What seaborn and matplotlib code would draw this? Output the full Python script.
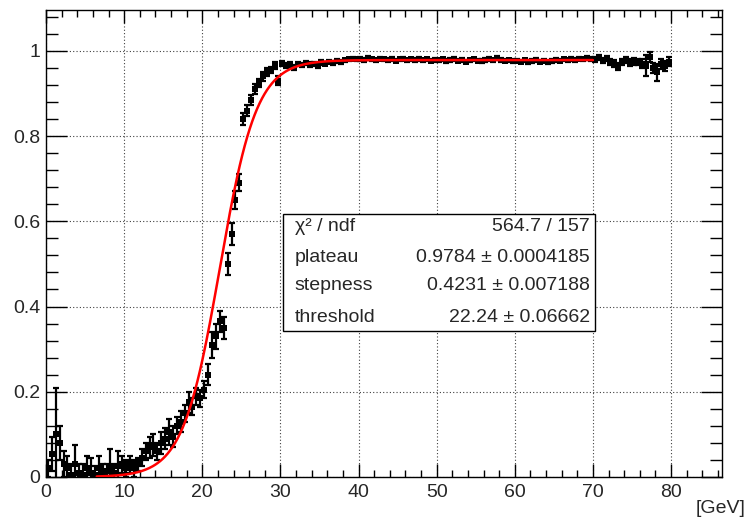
import numpy as np
import pandas as pd
import matplotlib
matplotlib.use('Agg')
import matplotlib.pyplot as plt
from matplotlib.ticker import MultipleLocator, FuncFormatter
from matplotlib.patches import Rectangle
import seaborn as sns

# bin centres, 0.5 GeV bins from 0 to 80
bin_centres = np.arange(0.25, 80.0, 0.5)

# efficiency per bin
eff_0_10 = [0.020, 0.055, 0.100, 0.080, 0.030, 0.020, 0.005, 0.030, 0.010, 0.005,
            0.020, 0.010, 0.005, 0.020, 0.010, 0.015, 0.020, 0.010, 0.025, 0.030]
eff_10_20 = [0.020, 0.030, 0.020, 0.030, 0.045, 0.060, 0.070, 0.075, 0.060, 0.080,
             0.090, 0.105, 0.095, 0.120, 0.130, 0.150, 0.175, 0.165, 0.190, 0.185]
eff_20_30 = [0.205, 0.240, 0.310, 0.330, 0.365, 0.350, 0.500, 0.570, 0.650, 0.690,
             0.840, 0.860, 0.885, 0.910, 0.925, 0.940, 0.950, 0.955, 0.965, 0.930]
eff_30_40 = [0.970, 0.965, 0.968, 0.962, 0.970, 0.966, 0.972, 0.968, 0.970, 0.965,
             0.973, 0.970, 0.975, 0.972, 0.976, 0.974, 0.978, 0.980, 0.982, 0.980]
eff_40_50 = [0.981, 0.979, 0.983, 0.980, 0.978, 0.982, 0.980, 0.979, 0.981, 0.977,
             0.980, 0.982, 0.978, 0.980, 0.979, 0.981, 0.978, 0.980, 0.977, 0.979]
eff_50_60 = [0.978, 0.980, 0.976, 0.979, 0.981, 0.977, 0.979, 0.975, 0.978, 0.980,
             0.977, 0.976, 0.979, 0.981, 0.978, 0.983, 0.979, 0.977, 0.978, 0.976]
eff_60_70 = [0.977, 0.975, 0.978, 0.974, 0.976, 0.979, 0.975, 0.977, 0.973, 0.976,
             0.979, 0.977, 0.980, 0.978, 0.981, 0.979, 0.982, 0.980, 0.983, 0.981]
eff_70_80 = [0.980, 0.984, 0.978, 0.982, 0.975, 0.970, 0.963, 0.975, 0.978, 0.972,
             0.976, 0.974, 0.970, 0.965, 0.985, 0.960, 0.950, 0.970, 0.965, 0.975]

err_0_10 = [0.020, 0.040, 0.110, 0.040, 0.030, 0.030, 0.025, 0.045, 0.020, 0.025,
            0.030, 0.035, 0.020, 0.030, 0.020, 0.015, 0.045, 0.020, 0.035, 0.020]
err_10_20 = [0.020, 0.020, 0.020, 0.015, 0.020, 0.020, 0.025, 0.025, 0.020, 0.025,
             0.025, 0.030, 0.025, 0.020, 0.025, 0.020, 0.025, 0.020, 0.020, 0.020]
err_20_30 = [0.020, 0.025, 0.030, 0.030, 0.025, 0.025, 0.025, 0.025, 0.020, 0.020,
             0.015, 0.012, 0.012, 0.012, 0.010, 0.010, 0.010, 0.008, 0.008, 0.010]
err_30_40 = [0.006, 0.006, 0.006, 0.006, 0.005, 0.005, 0.005, 0.005, 0.005, 0.005,
             0.005, 0.004, 0.004, 0.004, 0.004, 0.004, 0.004, 0.004, 0.004, 0.004]
err_40_70 = [0.004] * 60
err_70_80 = [0.005, 0.006, 0.006, 0.006, 0.007, 0.008, 0.008, 0.007, 0.007, 0.008,
             0.008, 0.008, 0.010, 0.025, 0.012, 0.012, 0.020, 0.012, 0.012, 0.010]

efficiency = eff_0_10 + eff_10_20 + eff_20_30 + eff_30_40 + eff_40_50 + eff_50_60 + eff_60_70 + eff_70_80
eff_err = err_0_10 + err_10_20 + err_20_30 + err_30_40 + err_40_70 + err_70_80

# fit results (shown in the stats box)
chi2_ndf = '564.7 / 157'
plateau, plateau_err = 0.9784, '0.0004185'
stepness, stepness_err = 0.4231, '0.007188'
threshold, threshold_err = 22.24, '0.06662'
fit_range = (6.5, 70.0)

df = pd.DataFrame({'x': bin_centres, 'eff': efficiency, 'err': eff_err})

sns.set_style('ticks')
plt.rcParams['font.family'] = ['Liberation Sans', 'DejaVu Sans']
plt.rcParams['font.size'] = 14

fig = plt.figure(figsize=(7.48, 5.24), dpi=100)
ax = fig.add_axes([0.0615, 0.0897, 0.9035, 0.8913])

ax.errorbar(df['x'], df['eff'], yerr=df['err'], fmt='none', ecolor='black',
            elinewidth=1.6, capsize=2.4, capthick=1.6, zorder=3)
sns.scatterplot(data=df, x='x', y='eff', marker='s', color='black', s=22,
                linewidth=0, ax=ax, zorder=4)

# fit function drawn over the fit range
fx = np.linspace(fit_range[0], fit_range[1], 400)
fy = plateau / (1 + np.exp(-stepness * (fx - threshold)))
sns.lineplot(x=fx, y=fy, color='#ff0000', linewidth=1.8, ax=ax, zorder=5)

ax.set_xlim(0, 86.5)
ax.set_ylim(0, 1.096)
ax.xaxis.set_major_locator(MultipleLocator(10))
ax.xaxis.set_minor_locator(MultipleLocator(2))
ax.yaxis.set_major_locator(MultipleLocator(0.2))
ax.yaxis.set_minor_locator(MultipleLocator(0.04))
ax.yaxis.set_major_formatter(FuncFormatter(lambda v, p: '%g' % round(v, 2)))

ax.tick_params(which='both', direction='in', top=True, right=True, color='black',
               labelsize=14, width=1)
ax.tick_params(axis='x', which='major', length=9.4, pad=5)
ax.tick_params(axis='x', which='minor', length=5)
ax.tick_params(axis='y', which='major', length=15, pad=4)
ax.tick_params(axis='y', which='minor', length=8.6)
for sp in ax.spines.values():
    sp.set_color('black')
    sp.set_linewidth(1)

ax.grid(which='major', linestyle=(0, (1, 2)), color='0.25', linewidth=0.8)
ax.set_axisbelow(True)
ax.set_xlabel('')
ax.set_ylabel('')
fig.text(0.997, 0.03, '[GeV]', ha='right', va='center', fontsize=14)

# stats box
ax.add_patch(Rectangle((0.351, 0.313), 0.461, 0.25, transform=ax.transAxes,
                       facecolor='white', edgecolor='black', linewidth=1, zorder=10))
rows = [('χ² / ndf', chi2_ndf),
        ('plateau', '%.4f ± %s' % (plateau, plateau_err)),
        ('stepness', '%.4f ± %s' % (stepness, stepness_err)),
        ('threshold', '%.2f ± %s' % (threshold, threshold_err))]
row_y = [0.537, 0.471, 0.409, 0.341]
for (name, val), yy in zip(rows, row_y):
    ax.text(0.368, yy, name, transform=ax.transAxes, ha='left', va='center',
            fontsize=14, zorder=11)
    ax.text(0.805, yy, val, transform=ax.transAxes, ha='right', va='center',
            fontsize=14, zorder=11)

fig.savefig('out.png', dpi=100)
